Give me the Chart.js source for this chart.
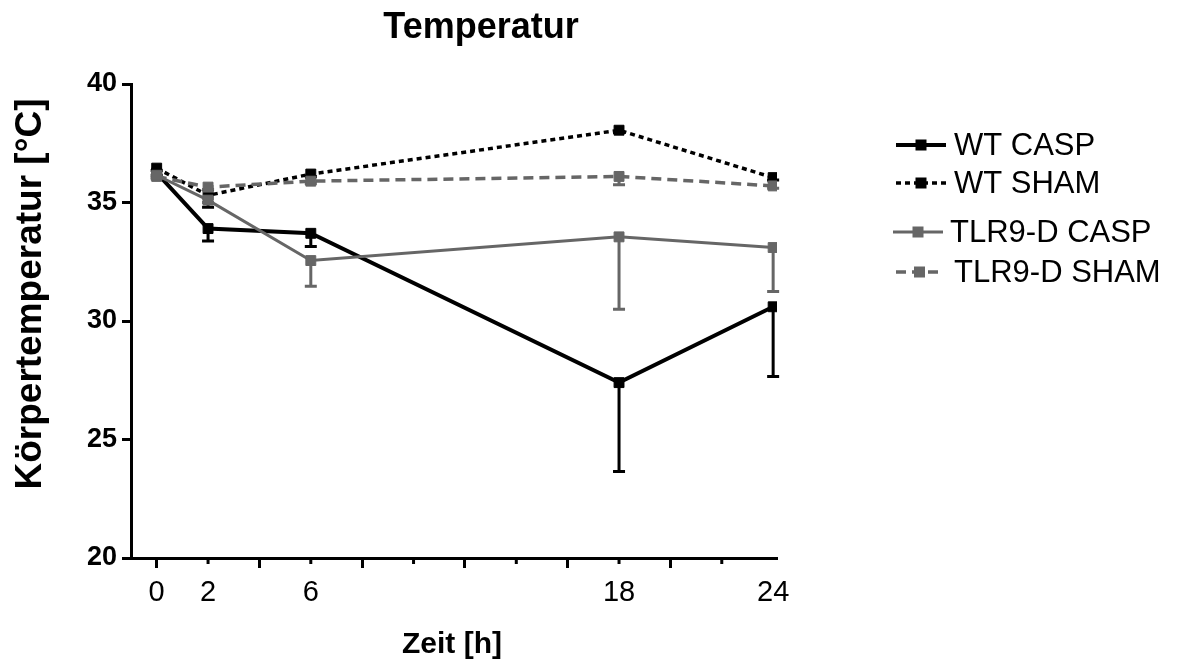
<!DOCTYPE html>
<html>
<head>
<meta charset="utf-8">
<script src="https://cdn.jsdelivr.net/npm/chart.js@4"></script>
<style>
  body { margin: 0; background: #fff; }
  #wrap { width: 1178px; height: 662px; }
</style>
</head>
<body>
<div id="wrap"><canvas id="tempChart"></canvas></div>
<script>
const FONT = "'Liberation Sans', Arial, sans-serif";

// time points [h]
const hours = [0, 2, 6, 18, 24];
const xTickValues = [0, 2, 4, 6, 8, 10, 12, 14, 16, 18, 20, 22, 24];
const xTickLabels = [0, 2, 6, 18, 24];
const yTickValues = [20, 25, 30, 35, 40];

// mean body temperature [°C] and SEM (drawn downwards)
const wtCasp = [36.25, 33.9, 33.7, 27.4, 30.6];
const wtCaspErr = [0.1, 0.52, 0.56, 3.75, 2.94];
const wtSham = [36.45, 35.3, 36.2, 38.05, 36.05];
const wtShamErr = [0.1, 0.5, 0.1, 0.1, 0.1];
const tlrCasp = [36.15, 35.1, 32.55, 33.55, 33.1];
const tlrCaspErr = [0.1, 0.1, 1.08, 3.05, 1.85];
const tlrSham = [36.1, 35.65, 35.9, 36.1, 35.7];
const tlrShamErr = [0.1, 0.1, 0.1, 0.35, 0.1];

const black = '#000000';
const grey = '#666666';

function series(label, values, errs, color, width, dash, order) {
    return {
        label: label,
        data: hours.map((h, i) => ({ x: h, y: values[i] })),
        errors: errs,
        borderColor: color,
        backgroundColor: color,
        borderWidth: width,
        borderDash: dash,
        pointStyle: 'rect',
        pointRadius: 7,
        pointBorderWidth: 1,
        pointBorderColor: color,
        pointBackgroundColor: color,
        tension: 0,
        order: order
    };
}

const datasets = [
    series('WT CASP', wtCasp, wtCaspErr, black, 4, [], 2),
    series('WT SHAM', wtSham, wtShamErr, black, 3.5, [5, 4], 2),
    series('TLR9-D CASP', tlrCasp, tlrCaspErr, grey, 3, [], 1),
    series('TLR9-D SHAM', tlrSham, tlrShamErr, grey, 3.5, [10, 6], 1)
];

// legend rows: y, line start/end, text x
const legendRows = [
    { y: 145, x0: 896, x1: 946, tx: 954 },
    { y: 183, x0: 896, x1: 946, tx: 954 },
    { y: 232, x0: 893, x1: 943, tx: 950 },
    { y: 272, x0: 896, x1: 943, tx: 954 }
];

const extras = {
    id: 'extras',
    beforeDatasetsDraw(chart) {
        const ctx = chart.ctx;
        const ys = chart.scales.y;
        chart.data.datasets.forEach((ds, di) => {
            const meta = chart.getDatasetMeta(di);
            ctx.save();
            ctx.strokeStyle = ds.borderColor;
            ctx.lineWidth = 3;
            meta.data.forEach((pt, i) => {
                const yEnd = ys.getPixelForValue(ds.data[i].y - ds.errors[i]);
                ctx.beginPath();
                ctx.moveTo(pt.x, pt.y);
                ctx.lineTo(pt.x, yEnd);
                ctx.moveTo(pt.x - 6, yEnd);
                ctx.lineTo(pt.x + 6, yEnd);
                ctx.stroke();
            });
            ctx.restore();
        });
    },
    afterDraw(chart) {
        const ctx = chart.ctx;
        const xs = chart.scales.x;
        ctx.save();
        // short ticks at 2, 6, 10, ...
        ctx.strokeStyle = black;
        ctx.lineWidth = 3;
        xTickValues.filter(v => v % 4 === 2).forEach(v => {
            const px = xs.getPixelForValue(v);
            ctx.beginPath();
            ctx.moveTo(px, xs.top);
            ctx.lineTo(px, xs.top + 6);
            ctx.stroke();
        });

        ctx.fillStyle = black;
        ctx.textAlign = 'center';
        ctx.textBaseline = 'alphabetic';
        ctx.font = 'bold 36px ' + FONT;
        ctx.fillText('Temperatur', 481, 38);
        ctx.font = 'bold 30px ' + FONT;
        ctx.fillText('Zeit [h]', 452, 653);
        ctx.save();
        ctx.translate(41, 294);
        ctx.rotate(-Math.PI / 2);
        ctx.font = 'bold 37px ' + FONT;
        ctx.fillText('Körpertemperatur [°C]', 0, 0);
        ctx.restore();

        // legend
        chart.data.datasets.forEach((ds, i) => {
            const r = legendRows[i];
            ctx.save();
            ctx.strokeStyle = ds.borderColor;
            ctx.lineWidth = ds.borderWidth;
            ctx.setLineDash(ds.borderDash);
            ctx.beginPath();
            ctx.moveTo(r.x0, r.y);
            ctx.lineTo(r.x1, r.y);
            ctx.stroke();
            ctx.setLineDash([]);
            ctx.fillStyle = ds.borderColor;
            const mx = (r.x0 + r.x1) / 2;
            ctx.fillRect(mx - 5.5, r.y - 5.5, 11, 11);
            ctx.fillStyle = black;
            ctx.font = '31px ' + FONT;
            ctx.textAlign = 'left';
            ctx.textBaseline = 'middle';
            ctx.fillText(ds.label, r.tx, r.y + 1);
            ctx.restore();
        });
        ctx.restore();
    }
};

new Chart(document.getElementById('tempChart'), {
    type: 'line',
    data: { datasets: datasets },
    options: {
        responsive: true,
        maintainAspectRatio: false,
        animation: false,
        layout: {
            padding: { left: 0, right: 401, top: 84, bottom: 0 }
        },
        plugins: {
            legend: { display: false },
            tooltip: { enabled: false },
            title: { display: false }
        },
        scales: {
            x: {
                type: 'linear',
                min: -1,
                max: 24.15,
                afterBuildTicks: s => { s.ticks = xTickValues.map(v => ({ value: v })); },
                afterFit: s => { s.height = 104; },
                ticks: {
                    autoSkip: false,
                    maxRotation: 0,
                    padding: 8,
                    color: black,
                    font: { family: FONT, size: 29 },
                    callback: v => xTickLabels.includes(v) ? String(v) : ''
                },
                grid: {
                    drawOnChartArea: false,
                    tickLength: 10,
                    tickWidth: 3,
                    tickColor: c => (c.tick && c.tick.value % 4 === 0 && c.tick.value < 24) ? black : 'rgba(0,0,0,0)'
                },
                border: { color: black, width: 3 }
            },
            y: {
                min: 20,
                max: 40,
                afterBuildTicks: s => { s.ticks = yTickValues.map(v => ({ value: v })); },
                afterFit: s => { s.width = 131; },
                ticks: {
                    padding: 5,
                    color: black,
                    font: { family: FONT, size: 27, weight: 'bold' }
                },
                grid: {
                    drawOnChartArea: false,
                    tickLength: 9,
                    tickWidth: 3,
                    tickColor: black
                },
                border: { color: black, width: 3 }
            }
        }
    },
    plugins: [extras]
});
</script>
</body>
</html>
